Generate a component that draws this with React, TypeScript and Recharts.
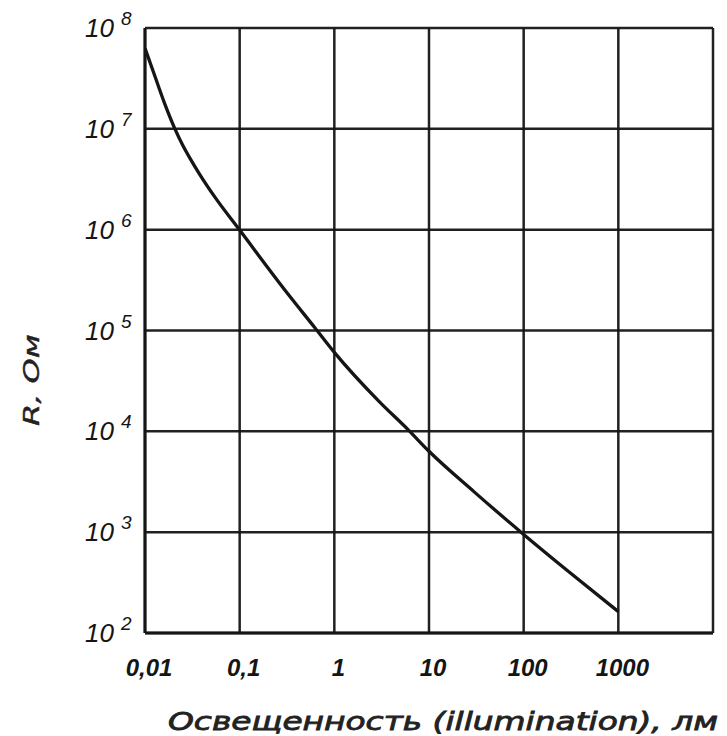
import React from 'react';
import { LineChart, Line, XAxis, YAxis, CartesianGrid } from 'recharts';

// illumination, lm
const luxValues = [0.01, 0.01276, 0.01625, 0.0207, 0.0252, 0.0299, 0.0381, 0.0548, 0.1, 0.3, 0.62, 1, 3, 6, 10, 30, 100, 300, 1000];
// resistance, Ohm
const ohmValues = [6.3e7, 3.3e7, 1.75e7, 1e7, 6.8e6, 5.1e6, 3.5e6, 2.1e6, 9.9e5, 2.52e5, 1.07e5, 6.07e4, 1.96e4, 1.04e4, 6.34e3, 2.51e3, 9.5e2, 4.05e2, 1.63e2];

const xTicks = [0.01, 0.1, 1, 10, 100, 1000, 10000];
const yTicks = [1e2, 1e3, 1e4, 1e5, 1e6, 1e7, 1e8];

const data = luxValues.map((lux, i) => ({ lux, ohm: ohmValues[i] }));

const ink = '#151515';
const font = '"Liberation Sans", Arial, sans-serif';
const titleFont = '"DejaVu Sans", Verdana, sans-serif';

const XTick = (props: any) => {
  const { x, y, payload } = props;
  if (payload.value >= 10000) return null;
  const label = String(payload.value).replace('.', ',');
  return (
    <text x={x + 4} y={y + 35} textAnchor="middle" fontFamily={font} fontStyle="italic"
      fontWeight="bold" fontSize={24} fill={ink}>
      {label}
    </text>
  );
};

const YTick = (props: any) => {
  const { x, y, payload } = props;
  const exp = Math.round(Math.log10(payload.value));
  return (
    <text x={x - 52} y={y + 9} textAnchor="start" fontFamily={font} fontStyle="italic" fill={ink}>
      <tspan fontSize={26}>10</tspan>
      <tspan fontSize={19} dx={7} dy={-12}>{exp}</tspan>
    </text>
  );
};

export default function App() {
  return (
    <div style={{ position: 'relative', width: 719, height: 728, background: '#fff' }}>
      <LineChart width={719} height={728} data={data}
        margin={{ top: 20, right: 14, left: 77, bottom: 43 }}>
        <CartesianGrid stroke={ink} strokeWidth={2.5} strokeOpacity={0.95} />
        <XAxis type="number" dataKey="lux" scale="log" domain={[0.01, 10000]} ticks={xTicks}
          allowDataOverflow height={60} tickLine={false} axisLine={{ stroke: ink, strokeWidth: 3 }}
          tick={<XTick />} interval={0} />
        <YAxis type="number" scale="log" domain={[100, 1e8]} ticks={yTicks} allowDataOverflow
          width={60} tickLine={false} axisLine={{ stroke: ink, strokeWidth: 3 }}
          tick={<YTick />} interval={0} />
        <Line type="monotone" dataKey="ohm" stroke={ink} strokeWidth={3.3} dot={false}
          isAnimationActive={false} />
      </LineChart>
      <svg width={719} height={728} style={{ position: 'absolute', left: 0, top: 0, pointerEvents: 'none' }}>
        <text x={160} y={722} textLength={550} lengthAdjust="spacingAndGlyphs"
          fontFamily={titleFont} fontStyle="italic" fontSize={24} fill="#222"
          stroke="#222" strokeWidth={0.8}>
          Освещенность (illumination), лм
        </text>
        <text transform="translate(31 372) rotate(-90)" textAnchor="middle" textLength={92}
          lengthAdjust="spacingAndGlyphs" fontFamily={titleFont} fontStyle="italic"
          fontSize={22} fill="#222" stroke="#222" strokeWidth={0.4}>
          R, Ом
        </text>
      </svg>
    </div>
  );
}
